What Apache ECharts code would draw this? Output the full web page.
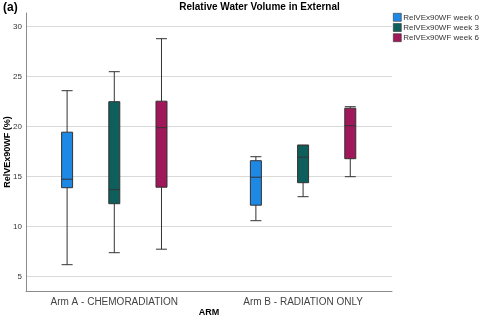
<!DOCTYPE html>
<html>
<head>
<meta charset="utf-8">
<script src="https://cdn.jsdelivr.net/npm/echarts@6/dist/echarts.min.js"></script>
<style>html,body{margin:0;padding:0;background:#fff}#c{width:480px;height:327px}</style>
</head>
<body>
<div id="c"></div>
<script>
// ---- data ----
const categories = ['Arm A - CHEMORADIATION', 'Arm B - RADIATION ONLY'];
const seriesNames = ['RelVEx90WF week 0', 'RelVEx90WF week 3', 'RelVEx90WF week 6'];
// each: [min, Q1, median, Q3, max] per category
const week0 = [[6.2, 13.9, 14.75, 19.45, 23.6], [10.6, 12.15, 14.95, 16.6, 17.0]];
const week3 = [[7.4, 12.3, 13.7, 22.5, 25.5], [13.0, 14.4, 16.95, 18.15, 18.15]];
const week6 = [[7.75, 13.95, 19.9, 22.55, 28.8], [15.0, 16.8, 20.1, 21.85, 22.0]];
const yTicks = [5, 10, 15, 20, 25, 30];

const weekData = [week0, week3, week6];
const colors = ['#1E88E5', '#0E5F5C', '#A0175A'];
const FONT = 'Liberation Sans, Arial, sans-serif';
const groupOffset = 0.25;
const xMin = -0.4677, xMax = 1.471;

const chart = echarts.init(document.getElementById('c'));

const xAxes = weekData.map((_, i) => ({
  type: 'value', gridIndex: 0, min: xMin, max: xMax,
  show: i === 0,
  name: i === 0 ? 'ARM' : '',
  nameLocation: 'middle', nameGap: 17, nameMoveOverlap: false,
  nameTextStyle: { fontFamily: FONT, fontSize: 9, fontWeight: 'bold', color: '#000' },
  axisLine: { show: true, onZero: false, lineStyle: { color: '#8c8c8c', width: 1 } },
  axisTick: { show: false },
  splitLine: { show: false },
  axisLabel: {
    customValues: categories.map((_, ci) => ci),
    formatter: v => categories[Math.round(v)],
    fontFamily: FONT, fontSize: 10, color: '#444', margin: 6
  }
}));

const series = weekData.map((wd, wi) => ({
  name: seriesNames[wi],
  type: 'boxplot',
  xAxisIndex: wi,
  yAxisIndex: 0,
  boxWidth: [11, 11],
  itemStyle: { color: colors[wi], borderColor: '#333', borderWidth: 1 },
  emphasis: { disabled: true },
  data: wd.map((v, ci) => [ci + (wi - 1) * groupOffset].concat(v))
}));

chart.setOption({
  animation: false,
  textStyle: { fontFamily: FONT },
  grid: { left: 26, right: 88, top: 13, bottom: 36, outerBoundsMode: 'none', containLabel: false },
  legend: {
    orient: 'vertical', left: 393, top: 13, padding: 0,
    itemWidth: 8, itemHeight: 8, itemGap: 1.6,
    icon: 'rect',
    textStyle: { fontFamily: FONT, fontSize: 8, color: '#333', padding: [0, 0, 0, -3] },
    data: seriesNames.map((n, i) => ({ name: n, itemStyle: { color: colors[i], borderColor: '#333', borderWidth: 0.6 } }))
  },
  graphic: [
    { type: 'text', left: 3, top: 2, style: { text: '(a)', font: 'bold 12px ' + FONT, fill: '#000' } },
    { type: 'text', x: 259.5, y: 2, style: { text: 'Relative Water Volume in External', font: 'bold 10px ' + FONT, fill: '#000', textAlign: 'center' } }
  ],
  xAxis: xAxes,
  yAxis: {
    type: 'value', min: 3.57, max: 31.37,
    name: 'RelVEx90WF (%)', nameLocation: 'middle', nameRotate: 90, nameGap: 14, nameMoveOverlap: false,
    nameTextStyle: { fontFamily: FONT, fontSize: 9, fontWeight: 'bold', color: '#000' },
    axisLine: { show: true, onZero: false, lineStyle: { color: '#8c8c8c', width: 1 } },
    axisTick: { show: false, customValues: yTicks },
    axisLabel: { customValues: yTicks, fontFamily: FONT, fontSize: 8, color: '#333', margin: 4 },
    splitLine: { show: true, lineStyle: { color: '#d9d9d9', width: 1 } }
  },
  series: series
});
</script>
</body>
</html>
